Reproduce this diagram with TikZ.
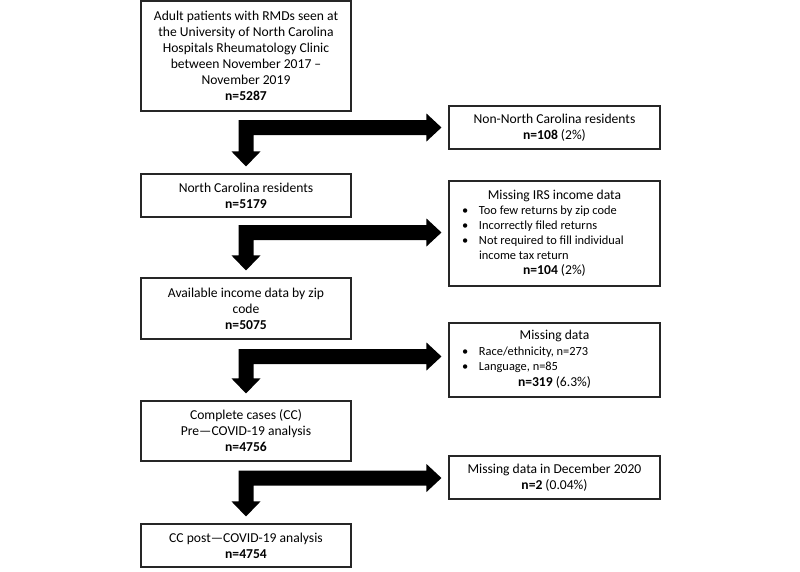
\documentclass[tikz,border=0pt]{standalone}
\usepackage{fontspec}
\setmainfont{Carlito}
\usetikzlibrary{calc}
\newcommand\bl[1]{\makebox[205pt][l]{\hspace{10pt}\makebox[17pt][l]{\textbullet}#1}}
\newcommand\blcont[1]{\makebox[205pt][l]{\hspace{27pt}#1}}
\newcommand\elbow[3]{%
  \coordinate (Y) at (0,#1);
  \coordinate (D) at ($(#2.north)+(0,-7)$);
  \coordinate (C) at (D |- Y);
  \coordinate (R) at ($(#3.west |- Y)+(-7,0)$);
  \fill[arr] ($(C)+(-7.5,-7.5)$) -- ($(R)+(-15,-7.5)$) -- ($(R)+(-15,-14)$) -- (R)
    -- ($(R)+(-15,14)$) -- ($(R)+(-15,7.5)$) -- ($(C)+(7.5,7.5)$)
    -- ($(D)+(7.5,-15)$) -- ($(D)+(14.5,-15)$) -- (D) -- ($(D)+(-14.5,-15)$)
    -- ($(D)+(-7.5,-15)$) -- cycle;
}
\begin{document}
\begin{tikzpicture}[x=1pt,y=-1pt,
  box/.style={draw=black!85, line width=1.1pt, rectangle, inner sep=2pt,
    align=center, font=\fontsize{13.6}{16}\selectfont, minimum width=210pt},
  rbox/.style={box, minimum width=211pt},
  arr/.style={fill=black}]
\useasboundingbox (0,0) rectangle (800,571);
\fill[white] (0,0) rectangle (800,571);
\node[box, minimum height=110pt] (b1) at (246,56) {Adult patients with RMDs seen at\\the University of North Carolina\\Hospitals Rheumatology Clinic\\between November 2017 –\\November 2019\\\textbf{n=5287}};
\node[box, minimum height=43pt] (b2) at (246,195.5) {North Carolina residents\\\textbf{n=5179}};
\node[box, minimum height=61pt] (b3) at (246,308.5) {Available income data by zip\\code\\\textbf{n=5075}};
\node[box, minimum height=60pt] (b4) at (246,431) {Complete cases (CC)\\Pre—COVID-19 analysis\\\textbf{n=4756}};
\node[box, minimum height=43pt] (b5) at (246,545.5) {CC post—COVID-19 analysis\\\textbf{n=4754}};
\node[rbox, minimum height=43pt] (r1) at (554.5,127.5) {Non-North Carolina residents\\\textbf{n=108} (2\%)};
\node[rbox, minimum height=105pt] (r2) at (554.5,233.5) {\fontsize{12.4}{15}\selectfont\begin{tabular}{@{}c@{}}
{\fontsize{13.6}{15}\selectfont Missing IRS income data}\\
\bl{Too few returns by zip code}\\
\bl{Incorrectly filed returns}\\
\bl{Not required to fill individual}\\
\blcont{income tax return}\\
{\fontsize{13.6}{15}\selectfont\textbf{n=104} (2\%)}
\end{tabular}};
\node[rbox, minimum height=74pt] (r3) at (554.5,360) {\fontsize{12.4}{15.5}\selectfont\begin{tabular}{@{}c@{}}
{\fontsize{13.6}{15}\selectfont Missing data}\\
\bl{Race/ethnicity, n=273}\\
\bl{Language, n=85}\\
{\fontsize{13.6}{15}\selectfont\textbf{n=319} (6.3\%)}
\end{tabular}};
\node[rbox, minimum height=43pt] (r4) at (554.5,477.5) {Missing data in December 2020\\\textbf{n=2} (0.04\%)};
\elbow{127.5}{b2}{r1}
\elbow{232.5}{b3}{r2}
\elbow{356.5}{b4}{r3}
\elbow{478}{b5}{r4}
\end{tikzpicture}
\end{document}
